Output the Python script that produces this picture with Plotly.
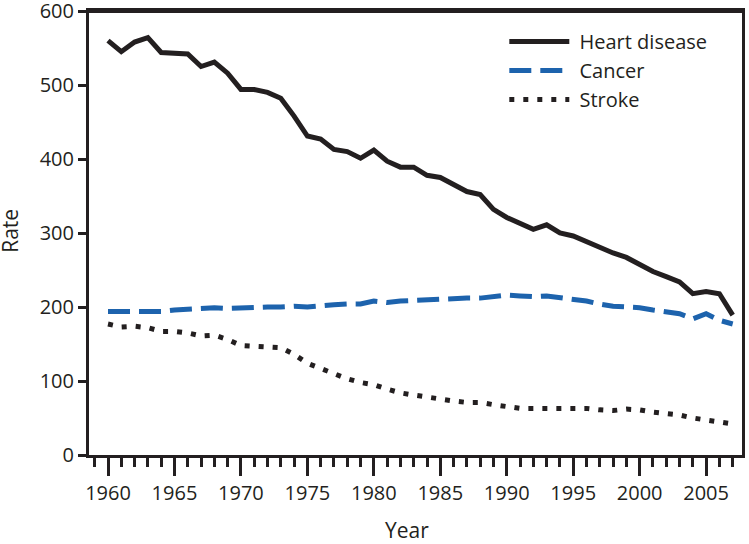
import plotly.graph_objects as go

years = list(range(1960, 2008))

heart_disease = [560, 545, 558, 564, 544, 543, 542, 525, 531, 516,
                 494, 494, 490, 482, 458, 431, 427, 413, 410, 401,
                 412, 397, 389, 389, 378, 375, 365, 356, 352, 332,
                 321, 313, 305, 311, 300, 296, 288, 280, 273, 267,
                 258, 248, 241, 234, 218, 221, 218, 189]

cancer = [194, 194, 194, 195, 194, 196, 197, 197, 199, 198,
          199, 199, 200, 200, 201, 200, 202, 203, 204, 204,
          208, 206, 208, 209, 210, 211, 211, 212, 212, 214,
          216, 215, 214, 215, 213, 211, 208, 204, 201, 200,
          199, 196, 194, 191, 184, 191, 182, 177]

stroke = [177, 173, 174, 172, 167, 167, 165, 161, 162, 156,
          148, 147, 147, 145, 136, 124, 117, 110, 103, 98,
          95, 89, 84, 81, 78, 76, 73, 71, 71, 68,
          65, 63, 63, 63, 64, 64, 63, 61, 60, 62,
          61, 58, 56, 54, 50, 47, 44, 42]

series_names = ["Heart disease", "Cancer", "Stroke"]
x_tick_vals = [1960, 1965, 1970, 1975, 1980, 1985, 1990, 1995, 2000, 2005]
y_tick_vals = [0, 100, 200, 300, 400, 500, 600]
x_title = "Year"
y_title = "Rate"

INK = "#231f20"
BLUE = "#1d63ad"
FONT = "Open Sans"
PAD = "\u00a0"

fig = go.Figure()
fig.add_trace(go.Scatter(x=years, y=heart_disease, mode="lines", name=PAD + series_names[0],
                         legendgroup="a",
                         line=dict(color=INK, width=5)))
fig.add_trace(go.Scatter(x=years, y=cancer, mode="lines", name=PAD + series_names[1],
                         legendgroup="b",
                         line=dict(color=BLUE, width=5, dash="22px,9px")))
fig.add_trace(go.Scatter(x=years, y=stroke, mode="lines", name=PAD + series_names[2],
                         legendgroup="c",
                         line=dict(color=INK, width=5, dash="5px,9px")))

fig.update_layout(
    width=749, height=544,
    margin=dict(l=89, r=7, t=11, b=89, autoexpand=False),
    paper_bgcolor="white", plot_bgcolor="white",
    font=dict(family=FONT, size=20, color=INK),
    showlegend=True,
    legend=dict(x=0.636, y=0.975, xanchor="left", yanchor="top",
                bgcolor="rgba(0,0,0,0)", font=dict(size=20, color=INK),
                itemwidth=60, traceorder="grouped", tracegroupgap=0),
    xaxis=dict(
        range=[1958.57, 2007.7], tickmode="array", tickvals=x_tick_vals,
        ticktext=[str(v) for v in x_tick_vals],
        ticks="outside", ticklen=18, tickwidth=3, tickcolor=INK,
        minor=dict(dtick=1, tick0=1960, ticks="outside", ticklen=9, tickwidth=3, tickcolor=INK),
        showline=True, linewidth=3, linecolor=INK, mirror=True,
        showgrid=False, zeroline=False,
        tickfont=dict(size=20),
    ),
    yaxis=dict(
        range=[0, 600], tickmode="array", tickvals=y_tick_vals,
        ticks="outside", ticklen=8, tickwidth=3, tickcolor=INK,
        showline=True, linewidth=3, linecolor=INK, mirror=True,
        showgrid=False, zeroline=False, ticklabeloverflow="allow",
        tickfont=dict(size=20),
    ),
    shapes=[
        dict(type="line", xref="paper", yref="paper", x0=0, x1=1, y0=1, y1=1,
             line=dict(color=INK, width=4)),
    ],
    annotations=[
        dict(text=x_title, xref="paper", yref="paper", x=0.487, y=-0.168,
             xanchor="center", yanchor="middle", showarrow=False,
             font=dict(size=21, color=INK)),
        dict(text=y_title, xref="paper", yref="paper", x=-0.121, y=0.505,
             xanchor="center", yanchor="middle", showarrow=False, textangle=-90,
             font=dict(size=21, color=INK)),
    ],
)

fig.write_html("out.html", config={"displayModeBar": False},
               post_script="document.body.style.margin='0px';")
